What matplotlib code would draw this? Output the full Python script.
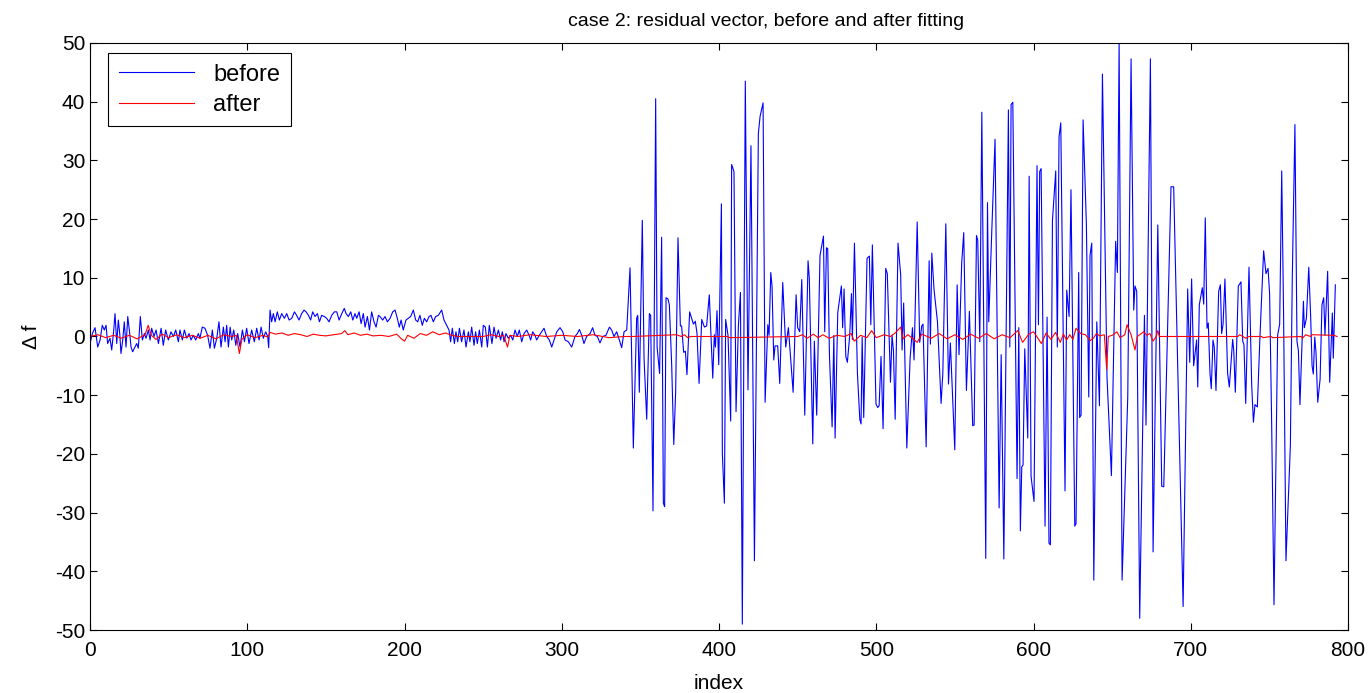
import matplotlib
matplotlib.use("Agg")
from matplotlib import pyplot as plt

plt.rcParams['font.family'] = ['Liberation Sans', 'DejaVu Sans']
plt.rcParams['axes.unicode_minus'] = False

title = "case 2: residual vector, before and after fitting"
x_ticks = [0, 100, 200, 300, 400, 500, 600, 700, 800]
y_ticks = [-50, -40, -30, -20, -10, 0, 10, 20, 30, 40, 50]

# residual "before" - vertices (index, value)
before_idx = [
    0, 1.5, 3.2, 4.9, 6.4, 7.8, 9.1, 10.2, 11.2, 12.7, 13.8, 15.1, 15.9, 17, 18, 18.9, 19.7, 20.8,
    21.8, 22.9, 24, 25, 26.1, 27.1, 28.6, 29.7, 30.7, 32, 33.3, 34.6, 35.6, 37.1, 38.2, 39.2, 40.7,
    42, 43.5, 45.2, 46.6, 48.1, 49.8, 51.5, 53, 54.5, 56.2, 57.2, 58.7, 60, 61.5, 63, 64.2, 65.7,
    67.2, 68.9, 69.9, 71.4, 73.1, 74.8, 76.3, 77.8, 79.1, 80.6, 82, 83.3, 84.8, 85.9, 86.9, 88,
    89.1, 90.1, 91.4, 92.7, 93.9, 95.4, 96.9, 98.2, 99.6, 101.1, 102.8, 104.5, 106, 107.5, 108.8,
    110.2, 111.7, 113, 113.6, 114.5, 115.5, 116.6, 117.7, 119.1, 120.4, 121.9, 123.6, 125.1, 126.6,
    128.3, 130, 131.4, 132.9, 134.6, 136.1, 137.4, 138.9, 140.3, 141.6, 143.1, 144.6, 145.9, 147.3,
    149, 150.5, 152, 153.7, 155.4, 156.9, 158.4, 160.1, 161.7, 162.8, 164.3, 165.8, 167.1, 168.5,
    169.6, 171.1, 172.4, 173.8, 174.9, 176.4, 177.7, 179.1, 180.6, 181.9, 183.4,
    184.4, 186.1, 187.6, 189.1, 190.8, 192.5, 194, 195.4, 196.7, 197.8, 199.2, 200.9, 202.4, 203.9,
    205.6, 207.1, 208.4, 209.8, 211.3, 212.6, 214.1, 215.6, 216.8, 218.3, 219.8, 221.5, 223.6,
    225.1, 226.8, 228.3, 229.3, 230.4, 231.7, 232.7, 233.8, 234.9, 236.3, 237.8, 239.1, 240.6,
    241.6, 242.7, 244.2, 245.2, 246.3, 247.6, 249.1, 250.1, 251.4, 252.7, 253.9, 255.6, 256.9,
    258.2, 259.7, 261.1, 262.2, 263.3, 264.5, 266, 267.5, 268.8, 270.3, 271.7, 273, 274.5, 276,
    277.7, 279.2, 280.2, 281.5, 283, 284, 285.7, 287.2, 288.7, 290.4, 292.1, 293.6, 295.1, 296.8,
    298.9, 300.6, 302.1, 304.2, 306.3, 308.4, 309.9, 311.2, 312.7, 314.1, 315.8, 318, 319.6, 321.1,
    322.6, 324.3, 326, 328.1, 330.3, 331.7, 333.2, 334.9, 336.6, 338.1, 339.6, 341.3,
    343.4, 345.5, 347.6, 348.3, 349.3, 351.2, 352.3, 354, 355.7, 356.5, 358, 359.7, 360.6, 362.2,
    363.5, 364.6, 365.4, 366.3, 367.5, 368.4, 369.9, 371.2, 372.4, 373.9, 375.4, 376.2, 377.5,
    378.6, 379.6, 381.3, 383.7, 384.9, 386, 387.3, 389, 390.7, 392.1, 393.8, 396, 397, 397.7,
    398.7, 399.8, 401.5, 402.1, 403.4, 404.2, 405.7, 407.4, 408, 409.5, 410.8, 412.3, 413.6, 414.8,
    416.7, 418.4, 420.3, 422.5, 425, 426.1, 428,
    429.3, 431, 431.8, 432.9, 433.7, 434.8, 435.6, 437.3, 438.6, 440.5, 442.4, 444.1, 447.1, 449,
    450, 451.3, 452.6, 454.5, 456.6, 457.4, 459.6, 460.6, 462.1, 464.2, 466.4, 467.2, 468.3, 469.1,
    470.2, 471.9, 473, 473.8, 475.5, 477.8, 478.6, 479.5, 480.6, 481.6, 483.1, 484.2, 484.8, 486.1,
    488, 489.5, 490.3, 491, 492, 494.1, 495.6, 496.5, 497.5, 499.8, 500.9, 501.8, 503, 504.3, 506,
    507, 509, 510, 510.9, 512, 513.8, 515.5, 516.4, 517.4,
    519.4, 521.5, 523, 524, 526, 527.6, 528.9, 529.7, 531.7, 533.6, 534.4, 535.3, 536.7, 538.9,
    541.2, 542.3, 544.2, 545.9, 547.1, 549.9, 551.4, 552.6, 554.3, 555.6, 557.3, 559.2, 561.3,
    562.2, 563.7, 564.5, 565.8, 567.1, 569.6, 570.7, 571.5, 573.4, 575.5, 578.1, 579.4, 581.1, 584,
    584.9, 585.7, 586.8, 589.5, 590.6, 591.6, 592.5, 593.3, 594.4, 596.3, 597.2, 598.4, 600.3,
    602.2, 603.1, 603.9, 604.8,
    607.3, 608.6, 609.8, 610.7, 612, 614.1, 615.1, 616.2, 617.3, 620, 621.1, 622.6, 623.8, 626.2,
    627, 628.7, 629.3, 630.2, 631.5, 633.6, 635.1, 635.9, 637, 638.3, 640.2, 641.9, 643.8, 646.7,
    649.5, 652.2, 653.3, 654.4, 656.3, 659.9, 662, 663.7, 664.5, 665.6, 667.5, 670.5, 671.5, 674.3,
    676, 679, 681.5, 682.8, 687.4, 689.1, 695.1,
    698, 699.3, 700.5, 701.8, 703.7, 704.4, 705.4, 707.3, 708.2, 709.2, 710.3, 711.1, 712.2, 713,
    714.1, 714.9, 716, 717.7, 718.8, 719.6, 720.5, 721.7, 723.4, 724.5, 726.6, 727.3, 728.3, 730.2,
    731.9, 733, 733.8, 734.9, 737, 738.7, 739.8, 740.8, 742.3, 744, 746.3, 747.8, 749.1, 750.1,
    751.4, 752.9, 755.2, 756.5, 757.8, 759, 760.5, 763.3, 764.5, 766.2, 767.5, 768.4, 769.4, 771.6,
    772.2, 773.5, 775, 776.2, 777.1, 777.9, 778.8, 779.6, 780.7, 782.2, 783.4, 784.5, 785.3, 787,
    788.3, 790, 790.6, 791.9,
]
before_val = [
    -1.2, 0.5, 1.5, -1.8, -0.6, 1.9, 1.1, 1.9, -1.2, -0.3, -2.3, 1.1, 3.9, -1.2, 2.8, 0.5, -2.9, -0.6,
    2.5, -1.8, 3.4, 1.1, -1.8, -2.6, -1.8, -1.2, -2, 3.4, -0.6, 0.5, -0.3, 1.1, -0.6, 1.4, 0,
    1.1, -1.2, 1.4, -1.5, 1.1, -0.6, 0.8, 0, 1.1, -0.9, 1.1, -0.6, 1.1, -0.3, 0.5, -0.6, 0.2,
    -0.6, 0.5, -0.3, 1.6, 1.4, 0.2, -2, 1.1, -2, -0.3, 2.5, -1.8, 1.6, -0.9, 1.9, -1.8,
    1.6, -0.6, 1.1, -1.5, 0.5, -1.8, 1.1, -0.9, 1.4, -1.2, 1.1, -0.9, 1.4, -0.6, 1.6,
    -0.3, 0.8, 0, -1.9, 4.5, 2.5, 3.9, 2.5, 4.2, 2.8, 3.9, 3.1, 3.9, 2.8,
    3.1, 4.2, 3.6, 2.8, 3.9, 4.5, 4.2, 3.6, 2.8, 4.2, 3.4, 3.9, 2.5, 3.6,
    3.4, 3.1, 2.5, 3.6, 4.2, 4.2, 2.8, 3.9, 4.8, 3.9, 3.4, 4.2, 2.8, 3.9,
    3.1, 4.2, 2.2, 3.9, 1.6, 3.4, 1.1, 4.2, 2.5, 1.6, 3.6,
    3.4, 2.8, 3.4, 2.5, 3.1, 4.2, 4.5, 3.1, 1.6, 2.8, 1.1, 2.8, 3.1, 3.4,
    4.5, 2.8, 2.5, 3.6, 1.9, 3.1, 2.5, 3.4, 3.6, 2.5, 3.4, 3.6, 4.5,
    2.8, 1.9, 1.1, -0.9, 1.4, -1.2, 0.8, -0.9, 1.4, -0.9, 1.1, -1.8, 0.8,
    -0.9, 1.6, -1.5, 0.8, -1.2, 1.1, -1.8, 1.9, 1.6, -1.8, 1.9, -1.2, 1.6,
    -0.3, 1.1, -0.6, 0.8, -0.9, 0.5, -0.3, 0.2, -0.6, 1.1, 0, 1.1, -0.9, 0.5,
    1.1, 0.2, -0.6, 0.8, 0.2, -0.6, 0.2, 0.8, 1.4, 0, -0.6, -1.8, -0.6, 0.8,
    1.5, 0.8, -0.6, -0.9, -1.8, 0, 0.5, 1.2, 0.2, -1.2, 0, 0.5, 1.5, 0.2,
    0, -1.1, 0, 0.2, 1.6, 1.1, 0, 0.8, -0.6, -1.9, 0.8, 1.1,
    11.7, -19, 3.1, 3.6, -9.5, 19.8, -3.7, -14.1, 3.9, 3.6, -29.7, 40.5, -1.8, -6.3,
    16.9, -28.4, -29, 6.6, 6.4, 5.4, -5, -18.4, -9.5, 16.8, 1.8, 1.8, -2.7,
    -2.5, -6.5, 4.2, 2.1, 2.6, 0.5, -8, 2.9, 1.6, 1.8, 7.1, -7.1, 0.3, -1.8,
    4.4, -4.8, 22.6, -19.9, -28.4, 2.9, 0.2, -14.4, 29.3, 28.1, -12.8, 1.8, 7.5, -49,
    43.5, -9.1, 32.5, -38.2, 34.6, 37.5, 39.8,
    -11.2, 2, 0.2, 10.9, 8.6, -4, -1.6, -1.6, -8, 9.2, -1.8, 1.5, -9.5, 7.1,
    1.5, 0.8, 9.7, -13.4, 12.9, 9.9, -18.3, -0.8, -13.4, 13.8, 17.1, 0.8, 15.1, 15,
    -3.1, -15.4, 0.2, -17.3, 4.1, 8.6, 1.5, 8.1, -3.4, -4.4, 0.2, 7.3, -0.5, 15.9,
    -6.3, -14.1, -14.9, -0.1, -13.8, 13.3, 13.7, 2, 15.6, -11.5, -12.1, -11.8, -3.4, -15.7, 11.6,
    10.7, -7.8, 0.2, -2.4, -14.1, 15.9, 10.5, -2.3, 5.7,
    -19, -3.7, 1.5, -4, 19.5, -1, 1.8, 2.1, -18.8, 12.9, -1.3, 14.2, 8, 2.5,
    -11.4, -6.3, 19.2, -8.1, -1.1, -19.3, 8.8, -3.1, 12.5, 17.7, -9.2, 4.3, -15.2,
    -15.1, 17.2, 16.4, -0.9, 38.2, -37.8, 22.8, 2.5, 17.7, 33.6, -29.2, -3.1, -37.9, 38.6,
    -1.8, 39.5, 39.9, -24.2, 1.5, -33.1, -22.2, -21.9, -2.1, -17.3, 27.3, -23.8, -28.1,
    29.1, 2, 28.1, 28.6,
    -32.3, 3.3, -35.2, -35.5, 19.7, 28.2, -1.8, 34, 36.4, -26.3, 7.9, 3.4, 25, -32.3,
    -31.9, 10.9, -13.8, -13.4, 36.9, 19, -10.3, 13.8, 15.9, -41.5, 2.5, -11.8, 44.7, -6.9,
    -23.7, 16.2, 10.9, 49.9, -41.5, -10.3, 47.3, 4.5, 8.6, 7.7, -48, 3.6, -15.1, 47.3,
    -36.7, 19, -25.5, -25.6, 25.5, 25.5, -46,
    8.1, -4.4, 9.8, -5, -0.6, -8.6, 5.4, 8.3, 5.5, 20.2, 1.4, 2.3, -6.3, -8.9,
    -0.6, -1.8, -9.2, 7.7, 8.8, 0.5, 2.1, 9.8, -6.3, -8.6, -0.5, -2.4, -9.5, 8.6,
    9.3, -0.8, -1.4, -11.4, 11.8, -8.2, -14.6, -11.6, -12, 0.2, 14.6, 10.7, 11.6, 7.3,
    -14.7, -45.7, 0.2, 2.1, 28.2, 3.4, -38.2, -18.6, 9.6, 36.1, -0.8, -2.4, -11.6, 6,
    1.5, 3.1, 11.8, 3.4, -5, -6.4, -0.1, -2.7, -11.2, -7.3, 5.4, 6.6, 0.2, 11.1,
    -7.8, 4, -3.7, 8.8,
]

# residual "after" (each idx line pairs with the val line below it)
after_idx = [
    0, 5, 10, 15, 20, 25, 30, 35, 37, 39, 42, 46,
    50, 55, 60, 65, 70, 75, 80, 85, 90, 93, 95, 96.5,
    100, 105, 110, 113, 114.5, 118, 122, 126, 130, 134, 138, 142,
    146, 150, 155, 160, 162, 164, 168, 172, 176, 180, 185, 190,
    195, 198, 200, 202, 206, 210, 214, 218, 222, 226, 230, 234,
    240, 250, 255, 260, 263, 265.5, 267, 272, 280, 290, 300, 310,
    320, 330, 340, 345, 373, 376, 378, 380, 382, 405, 407, 450,
    453, 456, 460, 463, 466, 470, 475, 480, 484, 486, 490, 494,
    497, 500, 505, 509, 512, 515.5, 517, 520, 523, 526, 529, 535,
    540, 545, 550, 555, 560, 565, 570, 575, 580, 585, 590, 593,
    597, 600, 603, 605, 608, 611, 614, 617, 619, 621, 623, 625,
    627, 630, 633, 636, 638, 640, 642, 645, 646.5, 647.5, 650, 653,
    655, 658, 659.5, 662, 664.5, 666, 670, 672, 674, 676, 678, 679,
    680, 730, 731, 733, 735, 737, 745, 746, 751, 752, 769, 770,
    771, 773, 776, 777, 791, 793,
]
after_val = [
    0, 0.3, -0.2, 0.2, -0.3, 0.2, -0.4, 0.3, 1.9, 0.2, -0.5, 0.4,
    -0.2, 0.3, -0.2, 0.2, -0.3, 0.2, -0.4, 0.3, 0, 0.2, -2.9, -0.5,
    0.3, -0.2, 0.2, -0.1, 0.7, 0.4, 0.6, 0.2, 0.5, 0.3, 0, 0.4,
    0.2, 0.1, 0.3, 0.5, 1.0, 0.3, 0.6, 0.2, 0.4, 0.1, 0.2, 0,
    0.4, -0.4, -0.8, 0.2, -0.3, 0.5, 0.2, 0.8, 0.3, 0.6, 0.2, 0,
    0, 0, 0.3, 0, 0.2, -1.8, 0.2, 0, 0.3, 0, 0.2, 0,
    0.3, -0.2, 0, 0, 0.3, 0, 0.3, -0.2, 0, 0, -0.2, 0,
    0.3, -0.3, 0.4, -0.2, 0.3, -0.3, 0.2, 0, 0.5, -0.8, 0.2, -0.2,
    1.0, -0.2, 0.3, 0, 0.6, 1.6, -0.4, 0.3, -0.3, -1.0, 0.4, -0.3,
    0.5, -0.4, 0.3, -0.5, 0.4, -0.3, 0.5, -0.4, 0.3, -0.2, 1.0, -1.0,
    0.4, 0.8, -0.4, -1.2, 0.6, -0.5, 0.7, -1.0, 0.4, -0.6, 0.3, -0.5,
    1.4, 0.5, 0.3, -0.7, -0.3, 0.5, 0.1, 0.3, -5.6, 0, 0.2, 0.8,
    -0.2, 0.3, 2.0, 0.3, -2.3, 0, 0.8, 0.2, 0.5, -0.8, 0, 1.0,
    0, 0, 0.3, 0, -0.3, 0, 0, -0.2, 0, -0.2, 0, 0,
    -0.3, 0.3, 0, 0.3, 0.2, 0,
]

fig = plt.figure(figsize=(13.7, 6.93), dpi=100)
ax = fig.add_axes([0.0657, 0.0909, 0.9183, 0.8471])

ax.plot(before_idx, before_val, color='#0000ff', linewidth=0.8, label='before')
ax.plot(after_idx, after_val, color='#ff0000', linewidth=0.8, label='after')

ax.set_xlim(0, 800)
ax.set_ylim(-50, 50)
ax.set_xticks(x_ticks)
ax.set_yticks(y_ticks)
ax.tick_params(direction='in', top=True, right=True, labelsize=15, length=5, width=0.8)
ax.tick_params(axis='x', pad=8)
for s in ax.spines.values():
    s.set_linewidth(0.8)

# matlab puts the title a little right of centre
ax.set_title(title, fontsize=14, pad=12, x=0.537)
ax.set_xlabel("index", fontsize=15, labelpad=10)
ax.set_ylabel("\u0394 f", fontsize=15, labelpad=10)

leg = ax.legend(loc='upper left', bbox_to_anchor=(0.0143, 0.983), borderaxespad=0,
                fontsize=17, fancybox=False, edgecolor='black', framealpha=1,
                handlelength=3.2, borderpad=0.45, labelspacing=0.35, handletextpad=0.8)
leg.get_frame().set_linewidth(0.8)

fig.savefig("out.png", dpi=100)
